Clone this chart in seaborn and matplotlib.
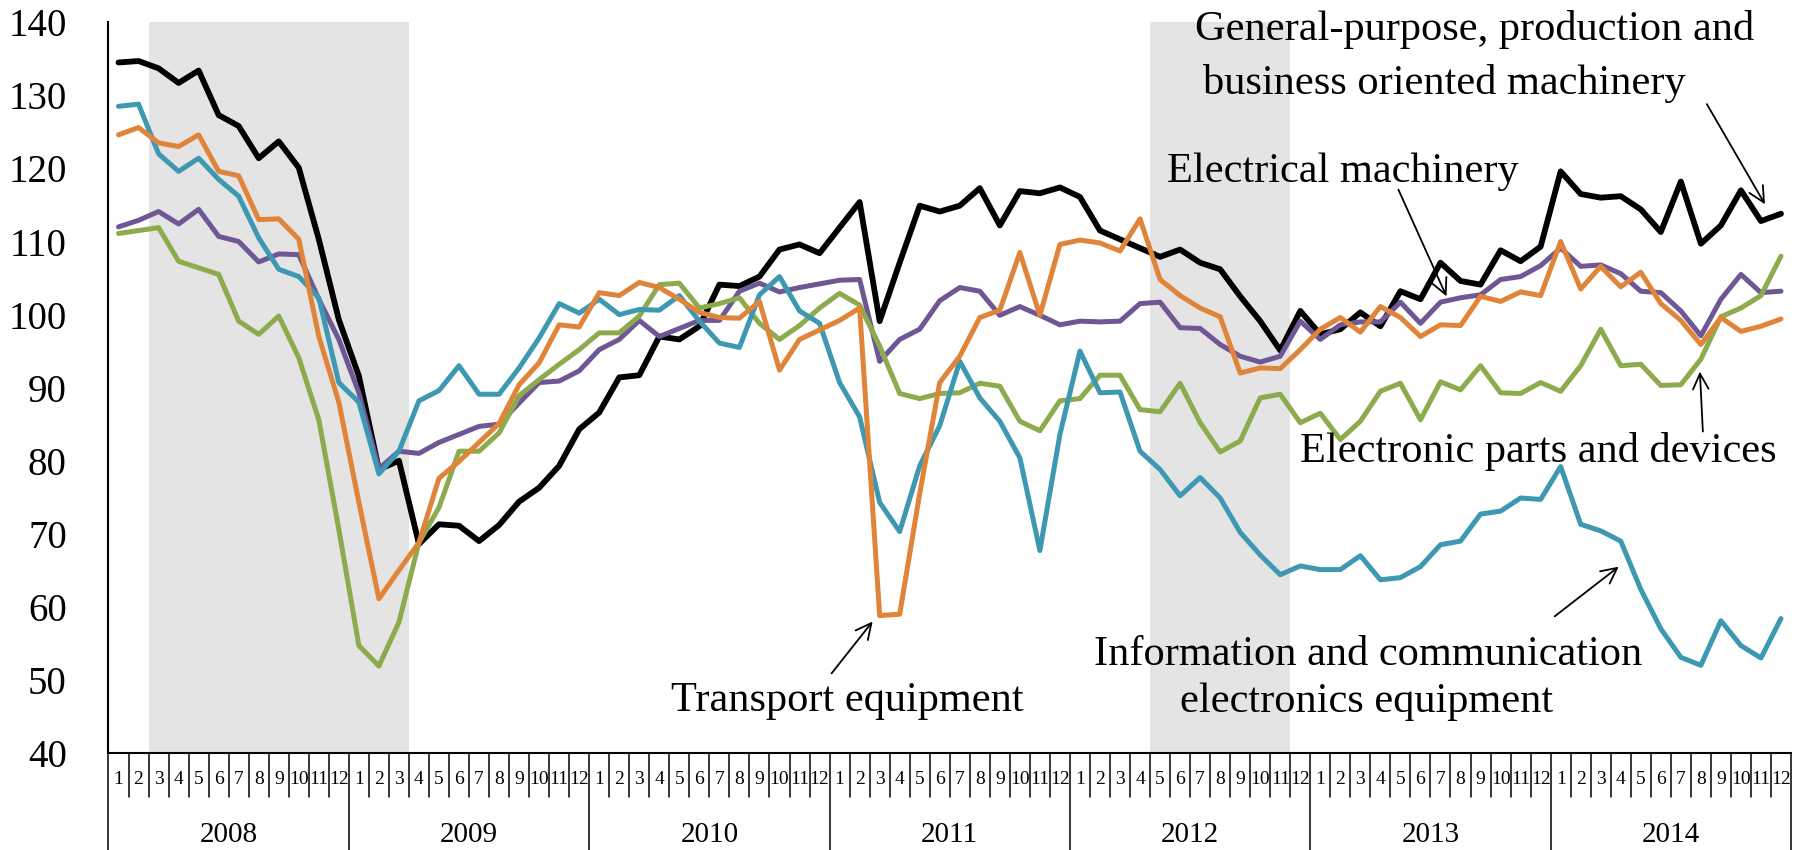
import numpy as np
import pandas as pd
import matplotlib
matplotlib.use("Agg")
import matplotlib.pyplot as plt
import seaborn as sns

# ---------------- data ----------------
years = [2008, 2009, 2010, 2011, 2012, 2013, 2014]
months = ["1", "2", "3", "4", "5", "6", "7", "8", "9", "10", "11", "12"]

gp_machinery = [134.5, 134.7, 133.7, 131.7, 133.4, 127.3, 125.8, 121.4, 123.7, 120.1, 110.3, 99.3,
                91.6, 78.8, 80.0, 68.6, 71.3, 71.1, 69.0, 71.2, 74.4, 76.3, 79.3, 84.3,
                86.6, 91.4, 91.7, 97.0, 96.6, 98.4, 104.1, 103.9, 105.2, 108.9, 109.6, 108.4,
                111.9, 115.4, 99.1, 107.1, 114.9, 114.1, 114.9, 117.3, 112.2, 116.9, 116.6, 117.4,
                116.1, 111.5, 110.3, 109.1, 107.9, 108.9, 107.1, 106.2, 102.5, 99.1, 95.1, 100.5,
                97.3, 98.0, 100.3, 98.4, 103.2, 102.1, 107.1, 104.6, 104.1, 108.8, 107.3, 109.3,
                119.6, 116.5, 116.0, 116.2, 114.4, 111.3, 118.2, 109.7, 112.2, 117.0, 112.8, 113.8]

electrical = [112.0, 112.9, 114.1, 112.4, 114.4, 110.7, 110.0, 107.2, 108.3, 108.2, 102.1, 96.6,
              89.3, 78.9, 81.3, 81.0, 82.5, 83.6, 84.7, 85.0, 87.9, 90.7, 90.9, 92.3,
              95.2, 96.6, 99.2, 97.0, 98.1, 99.2, 99.2, 103.2, 104.3, 103.1, 103.7, 104.2,
              104.7, 104.8, 93.6, 96.6, 98.0, 101.9, 103.7, 103.2, 99.9, 101.1, 99.9, 98.6,
              99.1, 99.0, 99.1, 101.5, 101.7, 98.2, 98.1, 95.9, 94.3, 93.5, 94.3, 99.1,
              96.6, 98.6, 99.0, 99.0, 101.7, 98.8, 101.7, 102.3, 102.7, 104.8, 105.2, 106.7,
              109.1, 106.6, 106.8, 105.6, 103.2, 103.0, 100.5, 97.1, 102.1, 105.5, 103.0, 103.2]

info_comm = [128.5, 128.8, 122.0, 119.6, 121.4, 118.5, 116.2, 110.5, 106.2, 105.2, 102.3, 90.7,
             88.0, 78.2, 81.3, 88.2, 89.6, 93.0, 89.1, 89.1, 92.7, 96.8, 101.5, 100.2,
             102.1, 100.0, 100.7, 100.6, 102.6, 99.1, 96.1, 95.5, 102.7, 105.2, 100.5, 98.8,
             90.7, 86.0, 74.3, 70.3, 79.3, 84.8, 93.6, 88.6, 85.4, 80.4, 67.7, 83.6,
             95.0, 89.3, 89.4, 81.3, 78.8, 75.2, 77.7, 74.9, 70.2, 67.1, 64.4, 65.6,
             65.1, 65.1, 67.0, 63.7, 64.0, 65.5, 68.5, 69.0, 72.7, 73.1, 74.9, 74.7,
             79.2, 71.3, 70.4, 69.0, 62.4, 57.0, 53.1, 52.0, 58.1, 54.7, 53.0, 58.4]

transport = [124.6, 125.6, 123.5, 123.0, 124.6, 119.6, 119.0, 113.0, 113.1, 110.3, 97.0, 88.0,
             74.3, 61.1, 65.0, 68.8, 77.6, 79.9, 82.5, 85.1, 90.4, 93.4, 98.6, 98.3,
             103.0, 102.6, 104.4, 103.7, 102.1, 100.3, 99.6, 99.5, 101.8, 92.4, 96.6, 97.9,
             99.2, 100.9, 58.8, 59.0, 75.5, 90.7, 94.3, 99.6, 100.6, 108.5, 99.9, 109.6,
             110.2, 109.8, 108.7, 113.1, 104.8, 102.6, 100.9, 99.7, 92.0, 92.7, 92.6, 95.2,
             98.0, 99.6, 97.6, 101.1, 99.6, 97.0, 98.6, 98.5, 102.5, 101.8, 103.1, 102.6,
             110.0, 103.5, 106.6, 103.8, 105.8, 101.5, 99.2, 95.9, 99.6, 97.7, 98.4, 99.4]

elec_parts = [111.1, 111.5, 111.9, 107.3, 106.4, 105.5, 99.1, 97.3, 99.8, 94.1, 85.6, 70.6,
              54.7, 51.9, 57.9, 68.8, 73.6, 81.3, 81.3, 83.8, 88.9, 91.1, 93.2, 95.2,
              97.5, 97.5, 99.8, 104.1, 104.3, 100.9, 101.5, 102.3, 98.8, 96.6, 98.5, 100.9,
              102.9, 101.3, 95.7, 89.2, 88.5, 89.2, 89.3, 90.6, 90.2, 85.4, 84.1, 88.2,
              88.5, 91.7, 91.7, 87.0, 86.7, 90.6, 85.2, 81.2, 82.7, 88.6, 89.1, 85.2,
              86.5, 82.9, 85.4, 89.5, 90.6, 85.6, 90.8, 89.7, 93.0, 89.3, 89.2, 90.7,
              89.5, 93.0, 98.0, 93.0, 93.2, 90.3, 90.4, 93.9, 99.7, 100.9, 102.6, 108.0]

# recession periods (first shaded month, last shaded month)
recessions = [("2008-03", "2009-03"), ("2012-05", "2012-11")]

series_names = ["General-purpose, production and business oriented machinery",
                "Electrical machinery",
                "Electronic parts and devices",
                "Information and communication electronics equipment",
                "Transport equipment"]
series_values = [gp_machinery, electrical, elec_parts, info_comm, transport]
series_colors = ["#000000", "#6E5794", "#8CAB4D", "#3E98B2", "#E0843A"]

# ---------------- build table ----------------
n = len(years) * len(months)
pos = np.arange(n) + 0.5
df = pd.concat([pd.DataFrame({"pos": pos, "value": v, "series": s})
                for s, v in zip(series_names, series_values)], ignore_index=True)

def month_index(s):
    y, m = s.split("-")
    return (int(y) - years[0]) * 12 + int(m) - 1

# ---------------- style ----------------
sns.set_style("white")
plt.rcParams["font.family"] = ["Liberation Serif", "DejaVu Serif"]
plt.rcParams["text.color"] = "black"
plt.rcParams["xtick.color"] = "black"
plt.rcParams["ytick.color"] = "black"
plt.rcParams["axes.labelcolor"] = "black"

W, H = 1806, 850
fig = plt.figure(figsize=(W / 100, H / 100), dpi=100)
x0, x1, ytop, ybot = 108.5, 1791.0, 22.3, 753.0
ax = fig.add_axes([x0 / W, 1 - ybot / H, (x1 - x0) / W, (ybot - ytop) / H])
ax.set_xlim(0, n)
ax.set_ylim(40, 140)

for a, b in recessions:
    ax.axvspan(month_index(a), month_index(b) + 1, color="#E4E4E4", lw=0, zorder=0)

sns.lineplot(data=df, x="pos", y="value", hue="series", hue_order=series_names,
             palette=dict(zip(series_names, series_colors)), legend=False,
             linewidth=3.6, ax=ax, zorder=3)
for ln in ax.lines:
    ln.set_solid_joinstyle("round")
    ln.set_solid_capstyle("round")
ax.lines[0].set_linewidth(4.2)

# spines
for sp in ["top", "right"]:
    ax.spines[sp].set_visible(False)
for sp in ["left", "bottom"]:
    ax.spines[sp].set_color("black")
    ax.spines[sp].set_linewidth(1.5)

# y axis
ax.set_yticks(np.arange(40, 141, 10))
ax.tick_params(axis="y", direction="in", length=8.5, width=1.4, pad=30,
               labelsize=28, colors="black", labelcolor="black")
ax.set_ylabel("")
ax.set_xlabel("")

# x axis: month boundaries as ticks, month labels at centres
ax.set_xticks(np.arange(0, n + 1))
ax.set_xticklabels([])
ax.tick_params(axis="x", which="major", direction="in", length=6, width=1.1, colors="black")
ax.set_xticks(pos, minor=True)
ax.set_xticklabels(months * len(years), minor=True)
ax.tick_params(axis="x", which="minor", length=0, pad=13, labelsize=14, labelcolor="black")

trans = ax.get_xaxis_transform()
for k in range(n + 1):
    bottom = -0.135 if k % 12 == 0 else -0.060
    ax.plot([k, k], [0, bottom], transform=trans, color="black", lw=1.1,
            clip_on=False, zorder=5)
for j, yr in enumerate(years):
    ax.text(12 * j + 6, -0.112, str(yr), transform=trans, ha="center",
            va="center", fontsize=21, color="black")

# ---------------- annotations ----------------
fs = 30.5
arrow = dict(arrowstyle="->", lw=1.3, color="black", mutation_scale=28,
             shrinkA=0, shrinkB=0)
tk = dict(ha="center", va="baseline", fontsize=fs, color="black")

ax.text(68.2, 137.6, "General-purpose, production and", **tk)
ax.text(66.7, 130.2, "business oriented machinery", **tk)
ax.annotate("", xy=(82.7, 115.1), xytext=(79.8, 128.8), arrowprops=arrow)

ax.text(61.6, 118.2, "Electrical machinery", **tk)
ax.annotate("", xy=(66.8, 102.5), xytext=(64.4, 117.1), arrowprops=arrow)

ax.text(71.4, 79.85, "Electronic parts and devices", **tk)
ax.annotate("", xy=(79.45, 92.2), xytext=(79.6, 84.0), arrowprops=arrow)

ax.text(62.9, 52.1, "Information and communication", **tk)
ax.text(62.8, 45.65, "electronics equipment", **tk)
ax.annotate("", xy=(75.4, 65.5), xytext=(72.2, 58.7), arrowprops=arrow)

ax.text(36.9, 45.8, "Transport equipment", **tk)
ax.annotate("", xy=(38.15, 58.0), xytext=(36.1, 50.9), arrowprops=arrow)

fig.savefig("out.png", dpi=100, facecolor="white")
